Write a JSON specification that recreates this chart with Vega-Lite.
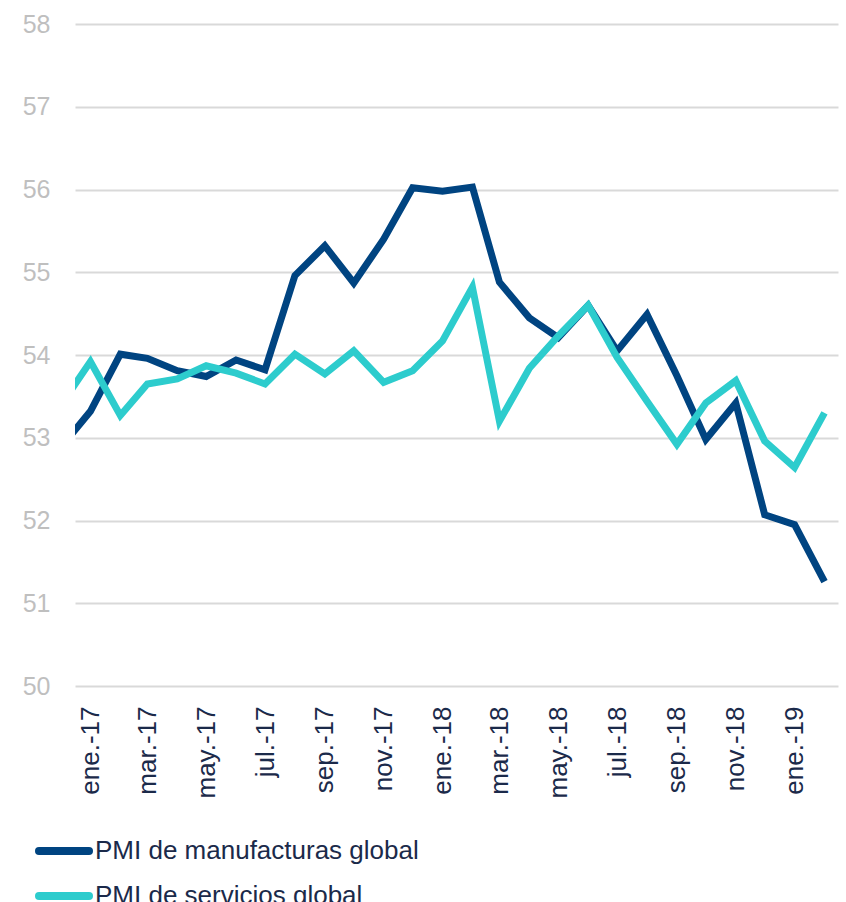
{
  "$schema": "https://vega.github.io/schema/vega-lite/v6.json",
  "autosize": "none",
  "width": 763,
  "height": 662,
  "padding": {"left": 75, "top": 24, "right": 8, "bottom": 216},
  "background": "white",
  "config": {
    "view": {"stroke": null},
    "font": "Liberation Sans"
  },
  "data": {
    "values": [
      {"fecha": "2016/12/01", "serie": "PMI de manufacturas global", "valor": 52.88},
      {"fecha": "2017/01/01", "serie": "PMI de manufacturas global", "valor": 53.32},
      {"fecha": "2017/02/01", "serie": "PMI de manufacturas global", "valor": 54.01},
      {"fecha": "2017/03/01", "serie": "PMI de manufacturas global", "valor": 53.96},
      {"fecha": "2017/04/01", "serie": "PMI de manufacturas global", "valor": 53.81},
      {"fecha": "2017/05/01", "serie": "PMI de manufacturas global", "valor": 53.74},
      {"fecha": "2017/06/01", "serie": "PMI de manufacturas global", "valor": 53.94},
      {"fecha": "2017/07/01", "serie": "PMI de manufacturas global", "valor": 53.82},
      {"fecha": "2017/08/01", "serie": "PMI de manufacturas global", "valor": 54.96},
      {"fecha": "2017/09/01", "serie": "PMI de manufacturas global", "valor": 55.32},
      {"fecha": "2017/10/01", "serie": "PMI de manufacturas global", "valor": 54.87},
      {"fecha": "2017/11/01", "serie": "PMI de manufacturas global", "valor": 55.40},
      {"fecha": "2017/12/01", "serie": "PMI de manufacturas global", "valor": 56.02},
      {"fecha": "2018/01/01", "serie": "PMI de manufacturas global", "valor": 55.98},
      {"fecha": "2018/02/01", "serie": "PMI de manufacturas global", "valor": 56.03},
      {"fecha": "2018/03/01", "serie": "PMI de manufacturas global", "valor": 54.88},
      {"fecha": "2018/04/01", "serie": "PMI de manufacturas global", "valor": 54.45},
      {"fecha": "2018/05/01", "serie": "PMI de manufacturas global", "valor": 54.21},
      {"fecha": "2018/06/01", "serie": "PMI de manufacturas global", "valor": 54.60},
      {"fecha": "2018/07/01", "serie": "PMI de manufacturas global", "valor": 54.05},
      {"fecha": "2018/08/01", "serie": "PMI de manufacturas global", "valor": 54.49},
      {"fecha": "2018/09/01", "serie": "PMI de manufacturas global", "valor": 53.75},
      {"fecha": "2018/10/01", "serie": "PMI de manufacturas global", "valor": 52.98},
      {"fecha": "2018/11/01", "serie": "PMI de manufacturas global", "valor": 53.42},
      {"fecha": "2018/12/01", "serie": "PMI de manufacturas global", "valor": 52.07},
      {"fecha": "2019/01/01", "serie": "PMI de manufacturas global", "valor": 51.95},
      {"fecha": "2019/02/01", "serie": "PMI de manufacturas global", "valor": 51.26},
      {"fecha": "2016/12/01", "serie": "PMI de servicios global", "valor": 53.39},
      {"fecha": "2017/01/01", "serie": "PMI de servicios global", "valor": 53.92},
      {"fecha": "2017/02/01", "serie": "PMI de servicios global", "valor": 53.27},
      {"fecha": "2017/03/01", "serie": "PMI de servicios global", "valor": 53.65},
      {"fecha": "2017/04/01", "serie": "PMI de servicios global", "valor": 53.71},
      {"fecha": "2017/05/01", "serie": "PMI de servicios global", "valor": 53.87},
      {"fecha": "2017/06/01", "serie": "PMI de servicios global", "valor": 53.78},
      {"fecha": "2017/07/01", "serie": "PMI de servicios global", "valor": 53.65},
      {"fecha": "2017/08/01", "serie": "PMI de servicios global", "valor": 54.01},
      {"fecha": "2017/09/01", "serie": "PMI de servicios global", "valor": 53.77},
      {"fecha": "2017/10/01", "serie": "PMI de servicios global", "valor": 54.05},
      {"fecha": "2017/11/01", "serie": "PMI de servicios global", "valor": 53.67},
      {"fecha": "2017/12/01", "serie": "PMI de servicios global", "valor": 53.81},
      {"fecha": "2018/01/01", "serie": "PMI de servicios global", "valor": 54.17},
      {"fecha": "2018/02/01", "serie": "PMI de servicios global", "valor": 54.82},
      {"fecha": "2018/03/01", "serie": "PMI de servicios global", "valor": 53.20},
      {"fecha": "2018/04/01", "serie": "PMI de servicios global", "valor": 53.84},
      {"fecha": "2018/05/01", "serie": "PMI de servicios global", "valor": 54.23},
      {"fecha": "2018/06/01", "serie": "PMI de servicios global", "valor": 54.60},
      {"fecha": "2018/07/01", "serie": "PMI de servicios global", "valor": 53.97},
      {"fecha": "2018/08/01", "serie": "PMI de servicios global", "valor": 53.44},
      {"fecha": "2018/09/01", "serie": "PMI de servicios global", "valor": 52.92},
      {"fecha": "2018/10/01", "serie": "PMI de servicios global", "valor": 53.42},
      {"fecha": "2018/11/01", "serie": "PMI de servicios global", "valor": 53.69},
      {"fecha": "2018/12/01", "serie": "PMI de servicios global", "valor": 52.96},
      {"fecha": "2019/01/01", "serie": "PMI de servicios global", "valor": 52.64},
      {"fecha": "2019/02/01", "serie": "PMI de servicios global", "valor": 53.30}
    ]
  },
  "mark": {"type": "line", "strokeWidth": 7, "clip": true, "strokeJoin": "miter", "strokeCap": "butt"},
  "encoding": {
    "x": {
      "field": "fecha",
      "type": "temporal",
      "scale": {
        "domain": [
          {"year": 2016, "month": 12, "date": 16},
          {"year": 2019, "month": 2, "date": 15}
        ]
      },
      "axis": {
        "title": null,
        "grid": false,
        "domain": false,
        "ticks": false,
        "tickCount": {"interval": "month", "step": 2},
        "labelExpr": "['ene.','feb.','mar.','abr.','may.','jun.','jul.','ago.','sep.','oct.','nov.','dic.'][month(datum.value)] + '-' + timeFormat(datum.value, '%y')",
        "labelAngle": -90,
        "labelAlign": "right",
        "labelBaseline": "middle",
        "labelPadding": 20,
        "labelFontSize": 26,
        "labelColor": "#1b2a4a",
        "labelFont": "Liberation Sans",
        "labelOverlap": false,
        "labelFlush": false,
        "labelLimit": 0
      }
    },
    "y": {
      "field": "valor",
      "type": "quantitative",
      "scale": {"domain": [50, 58], "nice": false, "zero": false},
      "axis": {
        "title": null,
        "values": [50, 51, 52, 53, 54, 55, 56, 57, 58],
        "domain": false,
        "ticks": false,
        "grid": true,
        "gridColor": "#d9d9d9",
        "gridWidth": 2,
        "labelFontSize": 25,
        "labelColor": "#bfbfbf",
        "labelPadding": 25,
        "labelFont": "Liberation Sans"
      }
    },
    "color": {
      "field": "serie",
      "type": "nominal",
      "sort": ["PMI de manufacturas global", "PMI de servicios global"],
      "scale": {
        "domain": ["PMI de manufacturas global", "PMI de servicios global"],
        "range": ["#004481", "#2dcccd"]
      },
      "legend": {
        "title": null,
        "orient": "none",
        "legendX": -40,
        "legendY": 798,
        "direction": "vertical",
        "symbolType": "stroke",
        "symbolSize": 2500,
        "symbolStrokeWidth": 8,
        "labelFontSize": 26,
        "labelColor": "#1b2a4a",
        "labelFont": "Liberation Sans",
        "labelOffset": 2,
        "labelLimit": 0,
        "rowPadding": -23,
        "encode": {
          "symbols": {"update": {"strokeCap": {"value": "round"}}}
        }
      }
    }
  }
}
